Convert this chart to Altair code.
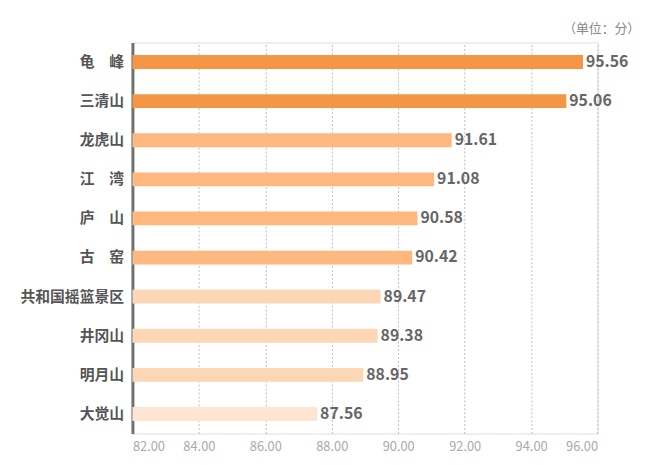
import altair as alt
import pandas as pd

names = ["龟　峰", "三清山", "龙虎山", "江　湾", "庐　山", "古　窑",
         "共和国摇篮景区", "井冈山", "明月山", "大觉山"]
scores = [95.56, 95.06, 91.61, 91.08, 90.58, 90.42, 89.47, 89.38, 88.95, 87.56]
tiers = ["a", "a", "b", "b", "b", "b", "c", "c", "c", "d"]
tier_colors = ["#F39646", "#FDB77F", "#FDD6B6", "#FDE5D2"]
ticks = [82, 84, 86, 88, 90, 92, 94, 96]

df = pd.DataFrame({"name": names, "score": scores, "tier": tiers})

FONT = "Noto Sans CJK SC"

xscale = alt.Scale(domain=[82, 96], nice=False, zero=False)

y = alt.Y("name:N", sort=names,
          scale=alt.Scale(paddingInner=0.0, paddingOuter=0.0),
          axis=alt.Axis(domain=True, domainColor="#707070", domainWidth=3,
                        ticks=False, labelFontSize=15, labelFontWeight="bold",
                        labelColor="#555555", labelFont=FONT, labelPadding=9,
                        title=None))

bars = alt.Chart(df).mark_bar(size=14).encode(
    x=alt.X("score:Q", scale=xscale,
            axis=alt.Axis(values=ticks, format=".2f", grid=True, gridDash=[2, 2],
                          gridColor="#BBBBBB", gridWidth=1, domain=False, ticks=False,
                          labelColor="#AAAAAA", labelFontSize=13, labelFont=FONT,
                          labelPadding=7, title=None)),
    x2=alt.datum(82),
    y=y,
    color=alt.Color("tier:N", scale=alt.Scale(domain=["a", "b", "c", "d"], range=tier_colors),
                    legend=None),
)

labels = alt.Chart(df).mark_text(align="left", baseline="middle", dx=3, fontSize=16,
                                 fontWeight="bold", color="#666666", font=FONT).encode(
    x=alt.X("score:Q", scale=xscale),
    y=alt.Y("name:N", sort=names),
    text=alt.Text("score:Q", format=".2f"),
)

chart = alt.layer(bars, labels).properties(
    width=471, height=396,
    autosize=alt.AutoSizeParams(type="none"),
    padding={"left": 126, "top": 32, "right": 45, "bottom": 30},
    title=alt.TitleParams("（单位：分）", anchor="end", fontSize=13, color="#888888",
                          fontWeight="normal", font=FONT, dx=12, offset=7),
).configure_view(stroke=None).configure(background="white")

chart.save("out.html", embed_options={"renderer": "svg", "actions": False})
